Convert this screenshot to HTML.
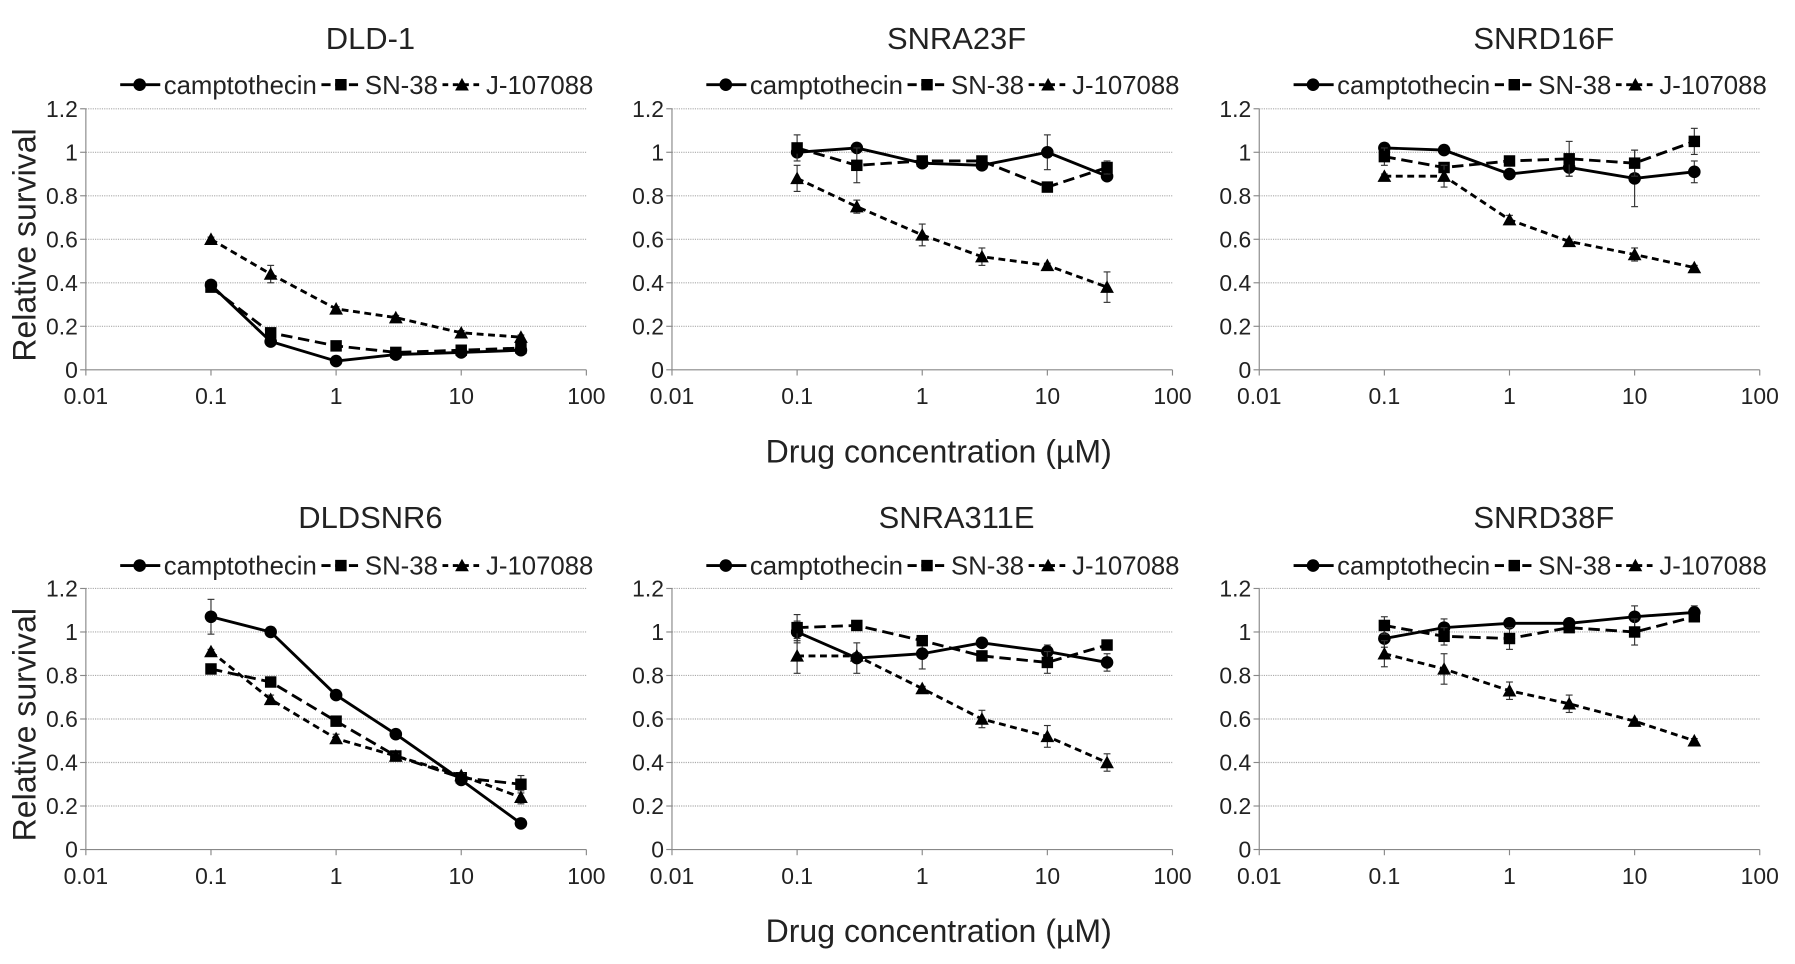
<!DOCTYPE html>
<html><head><meta charset="utf-8"><style>
html,body{margin:0;padding:0;background:#fff;}
svg{display:block;font-family:"Liberation Sans",sans-serif;}
</style></head><body>
<svg id="c" width="1795" height="964" viewBox="0 0 1568 842" preserveAspectRatio="none"></svg>
<script>
const conc = [0.1, 0.3, 1, 3, 10, 30];
const titles = ["DLD-1","SNRA23F","SNRD16F","DLDSNR6","SNRA311E","SNRD38F"];
const seriesNames = ["camptothecin","SN-38","J-107088"];
const yTicks = [0,0.2,0.4,0.6,0.8,1,1.2];
const yTickLabels = ["0","0.2","0.4","0.6","0.8","1","1.2"];
const xTicks = [0.01,0.1,1,10,100];
const xTickLabels = ["0.01","0.1","1","10","100"];
const campto = [
 [0.39,0.13,0.04,0.07,0.08,0.09],
 [1.00,1.02,0.95,0.94,1.00,0.89],
 [1.02,1.01,0.90,0.93,0.88,0.91],
 [1.07,1.00,0.71,0.53,0.32,0.12],
 [1.00,0.88,0.90,0.95,0.91,0.86],
 [0.97,1.02,1.04,1.04,1.07,1.09]];
const sn38 = [
 [0.38,0.17,0.11,0.08,0.09,0.10],
 [1.02,0.94,0.96,0.96,0.84,0.93],
 [0.98,0.93,0.96,0.97,0.95,1.05],
 [0.83,0.77,0.59,0.43,0.33,0.30],
 [1.02,1.03,0.96,0.89,0.86,0.94],
 [1.03,0.98,0.97,1.02,1.00,1.07]];
const j107 = [
 [0.60,0.44,0.28,0.24,0.17,0.15],
 [0.88,0.75,0.62,0.52,0.48,0.38],
 [0.89,0.89,0.69,0.59,0.53,0.47],
 [0.91,0.69,0.51,0.43,0.34,0.24],
 [0.89,0.89,0.74,0.60,0.52,0.40],
 [0.90,0.83,0.73,0.67,0.59,0.50]];
const camptoErr = [
 [0.01,0.01,0.01,0.01,0.01,0.01],
 [0.02,0.01,0.01,0.01,0.08,0.02],
 [0.01,0.01,0.01,0.04,0.13,0.05],
 [0.08,0.01,0.01,0.02,0.01,0.01],
 [0.05,0.07,0.07,0.01,0.03,0.04],
 [0.04,0.04,0.01,0.01,0.05,0.03]];
const sn38Err = [
 [0.01,0.01,0.01,0.01,0.01,0.01],
 [0.06,0.08,0.01,0.01,0.02,0.03],
 [0.04,0.02,0.01,0.08,0.06,0.06],
 [0.01,0.01,0.01,0.01,0.01,0.04],
 [0.06,0.01,0.01,0.01,0.05,0.01],
 [0.04,0.04,0.05,0.01,0.06,0.01]];
const j107Err = [
 [0.01,0.04,0.01,0.01,0.01,0.01],
 [0.06,0.03,0.05,0.04,0.01,0.07],
 [0.01,0.05,0.02,0.01,0.03,0.01],
 [0.01,0.02,0.02,0.01,0.01,0.03],
 [0.08,0.01,0.01,0.04,0.05,0.04],
 [0.06,0.07,0.04,0.04,0.01,0.01]];

const svg = document.getElementById('c');
const NS = 'http://www.w3.org/2000/svg';
function mk(tag, attrs, parent){const e=document.createElementNS(NS,tag);for(const k in attrs)e.setAttribute(k,attrs[k]);(parent||svg).appendChild(e);return e;}
const panelX0 = [75,587,1100];
const panelY0 = [323,742];
const dec = 109.3, unitY = 190;
const dashes = ["none","10,5","6,4"];
const markers = ["circle","square","triangle"];
function marker(g,type,x,y,s){
  let m;
  if(type==="circle") m=mk('circle',{cx:x,cy:y,r:5.5*s,fill:'#000'},g);
  else if(type==="square") m=mk('rect',{x:x-5*s,y:y-5*s,width:10*s,height:10*s,fill:'#000'},g);
  else m=mk('polygon',{points:`${x},${y-6*s} ${x+6*s},${y+5*s} ${x-6*s},${y+5*s}`,fill:'#000'},g);
  return m;
}
for(let p=0;p<6;p++){
  const col=p%3,row=Math.floor(p/3);
  const x0=panelX0[col], y0=panelY0[row];
  const xs=v=>x0+(Math.log10(v)+2)*dec;
  const ys=v=>y0-v*unitY;
  const g=mk('g',{});
  
  
  const cx=(xs(0.01)+xs(100))/2;
  const t=mk('text',{x:cx+30,y:row?461:43,'text-anchor':'middle','font-size':27,fill:'#222'},g);
  t.textContent=titles[p];
  
  
  yTicks.forEach((v,i)=>{
    if(v>0){const gl=mk('line',{x1:xs(0.01),x2:xs(100),y1:ys(v),y2:ys(v),stroke:'#aaa','stroke-width':1,'stroke-dasharray':'1,1'},g);
      }
    mk('line',{x1:xs(0.01)-5,x2:xs(0.01),y1:ys(v),y2:ys(v),stroke:'#888'},g);
    const tl=mk('text',{x:xs(0.01)-7,y:ys(v)+7,'text-anchor':'end','font-size':20,fill:'#222'},g);
    tl.textContent=yTickLabels[i];
    
  });
  xTicks.forEach((v,i)=>{
    mk('line',{x1:xs(v),x2:xs(v),y1:y0,y2:y0+5,stroke:'#888'},g);
    const tl=mk('text',{x:xs(v),y:y0+30,'text-anchor':'middle','font-size':20,fill:'#222'},g);
    tl.textContent=xTickLabels[i];
    
  });
  const ax=mk('line',{x1:xs(0.01),x2:xs(0.01),y1:ys(1.2),y2:y0,stroke:'#888'},g);
  
  const bx=mk('line',{x1:xs(0.01),x2:xs(100),y1:y0,y2:y0,stroke:'#888'},g);
  
  const all=[campto[p],sn38[p],j107[p]], errs=[camptoErr[p],sn38Err[p],j107Err[p]];
  all.forEach((vals,si)=>{
    const sg=mk('g',{},g);
    
    
    vals.forEach((v,i)=>{
      const e=errs[si][i];const x=xs(conc[i]);
      mk('line',{x1:x,x2:x,y1:ys(v+e),y2:ys(v-e),stroke:'#333','stroke-width':1},sg);
      mk('line',{x1:x-3,x2:x+3,y1:ys(v+e),y2:ys(v+e),stroke:'#333'},sg);
      mk('line',{x1:x-3,x2:x+3,y1:ys(v-e),y2:ys(v-e),stroke:'#333'},sg);
    });
    const pl=mk('polyline',{points:vals.map((v,i)=>xs(conc[i])+','+ys(v)).join(' '),fill:'none',stroke:'#000','stroke-width':2.5,'stroke-dasharray':dashes[si]},sg);
    
    vals.forEach((v,i)=>{
      const m=marker(sg,markers[si],xs(conc[i]),ys(v),1);
      
    });
  });
  const lg=mk('g',{},g);
  
  
  const ly=row?494:74;
  let lx=x0+30;
  seriesNames.forEach((n,si)=>{
    const e=mk('g',{},lg);
    
    
    mk('line',{x1:lx,x2:lx+35,y1:ly,y2:ly,stroke:'#000','stroke-width':2.5,'stroke-dasharray':dashes[si]==='none'?'none':(si===1?'8,4':'5,4')},e);
    marker(e,markers[si],lx+17,ly,1);
    const tt=mk('text',{x:lx+38,y:ly+8,'font-size':22.5,fill:'#222'},e);
    tt.textContent=n;
    lx+=38+tt.getComputedTextLength()+4;
  });
}
[214,633].forEach(y=>{
  const t=mk('text',{x:0,y:0,'text-anchor':'middle','font-size':28,fill:'#222',transform:`translate(31,${y}) rotate(-90)`});
  t.textContent='Relative survival';
  
});
[404,823].forEach(y=>{
  const t=mk('text',{x:820,y:y,'text-anchor':'middle','font-size':28,fill:'#222'});
  t.textContent='Drug concentration (\u00b5M)';
  
});
</script>
</body></html>
